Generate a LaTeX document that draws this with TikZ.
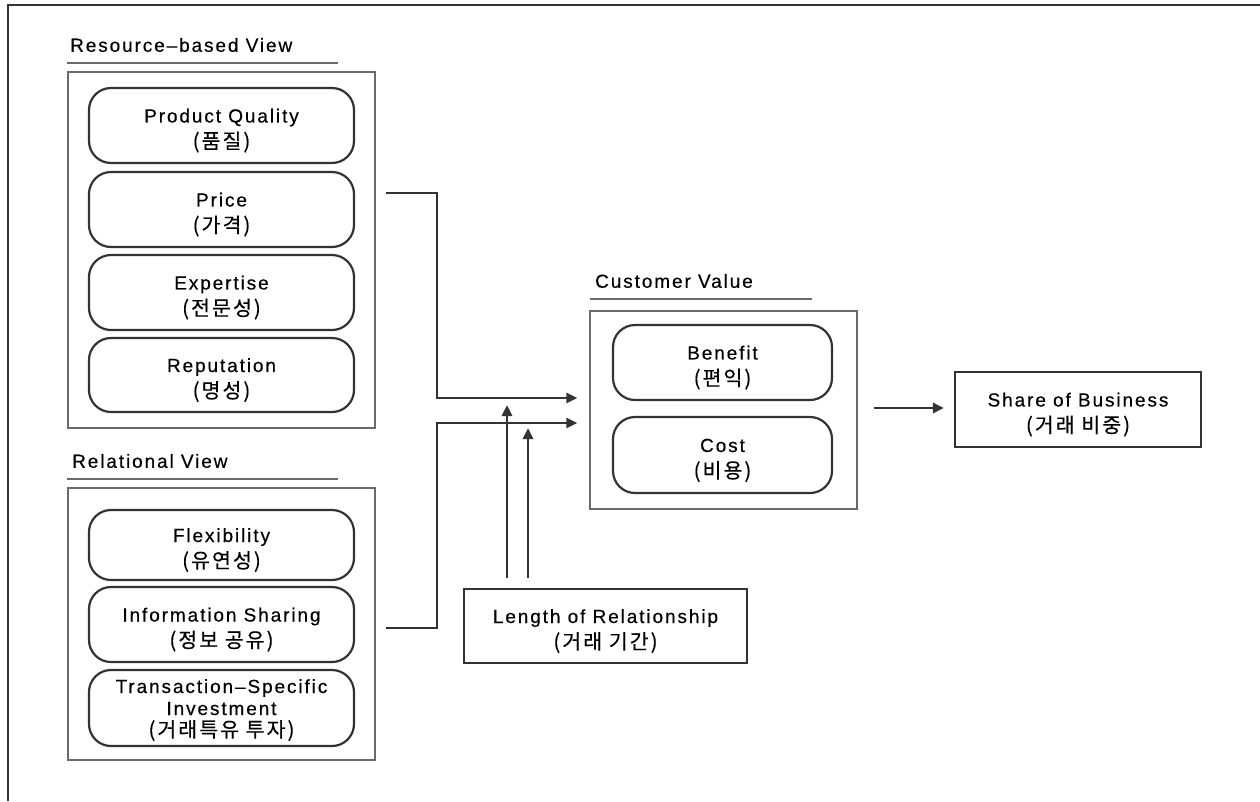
\documentclass[tikz,border=0pt]{standalone}
\usepackage{fontspec}
\setmainfont{Liberation Sans}[LetterSpace=10, FakeBold=0.4]
\newfontfamily\kr{Noto Sans CJK KR}[LetterSpace=10, Scale=1.08, FakeBold=0.3]
\usetikzlibrary{arrows.meta}

\definecolor{ink}{HTML}{333333}
\definecolor{frameink}{HTML}{6A6A6A}

% strut that lowers a two-line label slightly inside its box
\newcommand{\lowstrut}[1]{\rule{0pt}{#1}}

\tikzset{
  lbl/.style={font=\fontsize{19}{26}\selectfont, text=black, align=center, inner sep=0pt},
  viewbox/.style={draw=frameink, line width=1.4pt, rectangle, inner sep=0pt},
  item/.style={lbl, draw=ink, line width=2.2pt, rectangle, rounded corners=22pt},
  plainbox/.style={lbl, draw=ink, line width=2.2pt, rectangle},
  heading/.style={font=\fontsize{19}{26}\selectfont, anchor=west, inner sep=0pt},
  rule/.style={draw=frameink, line width=1.4pt},
  conn/.style={draw=ink, line width=2.8pt, -{Triangle[length=11pt,width=10pt]}},
}

\begin{document}
\begin{tikzpicture}[x=1pt,y=-1pt]
\useasboundingbox (0,0) rectangle (1260,801);
\fill[white] (0,0) rectangle (1260,801);

% page frame (top and left edges only)
\draw[draw=ink, line width=2pt] (8,801) -- (8,5) -- (1260,5);

% ---- Resource-based View ----
\node[heading] (rbvtitle) at (70,45) {Resource–based View};
\draw[rule] (67,63) -- (338,63);
\node[viewbox, minimum width=307pt, minimum height=356pt] (rbv) at (221.5,250) {};
\node[item, minimum width=265pt, minimum height=75pt] (quality) at (221.5,125.5)
  {\lowstrut{24pt}Product Quality\\{\kr (품질)}};
\node[item, minimum width=265pt, minimum height=75pt] (price) at (221.5,209.5)
  {\lowstrut{24pt}Price\\{\kr (가격)}};
\node[item, minimum width=265pt, minimum height=75pt] (expertise) at (221.5,292.5)
  {\lowstrut{24pt}Expertise\\{\kr (전문성)}};
\node[item, minimum width=265pt, minimum height=74pt] (reputation) at (221.5,375)
  {\lowstrut{24pt}Reputation\\{\kr (명성)}};

% ---- Relational View ----
\node[heading] (rvtitle) at (72,461) {Relational View};
\draw[rule] (67,479) -- (338,479);
\node[viewbox, minimum width=307pt, minimum height=272pt] (rv) at (221.5,624) {};
\node[item, minimum width=265pt, minimum height=70pt] (flex) at (221.5,545)
  {\lowstrut{24pt}Flexibility\\{\kr (유연성)}};
\node[item, minimum width=265pt, minimum height=75pt] (info) at (221.5,624.5)
  {\lowstrut{24pt}Information Sharing\\{\kr (정보 공유)}};
\node[item, minimum width=265pt, minimum height=76pt, font=\fontsize{19}{22}\selectfont] (tsi) at (221.5,708)
  {\lowstrut{18pt}Transaction–Specific\\Investment\\{\kr (거래특유 투자)}};

% ---- Customer Value ----
\node[heading] (cvtitle) at (595,281) {Customer Value};
\draw[rule] (590,299) -- (812,299);
\node[viewbox, minimum width=267pt, minimum height=198pt] (cv) at (723.5,410) {};
\node[item, minimum width=219pt, minimum height=75pt] (benefit) at (722.5,362.5)
  {\lowstrut{24pt}Benefit\\{\kr (편익)}};
\node[item, minimum width=219pt, minimum height=76pt] (cost) at (722.5,455)
  {\lowstrut{24pt}Cost\\{\kr (비용)}};

% ---- Length of Relationship ----
\node[plainbox, minimum width=283pt, minimum height=74pt] (length) at (605.5,626)
  {\lowstrut{24pt}Length of Relationship\\{\kr (거래 기간)}};

% ---- Share of Business ----
\node[plainbox, minimum width=246pt, minimum height=75pt] (share) at (1078,409.5)
  {\lowstrut{24pt}Share of Business\\{\kr (거래 비중)}};

% ---- connectors ----
\coordinate (rbvout) at ([xshift=10pt]rbv.east |- 0,193);
\coordinate (rvout) at ([xshift=10pt]rv.east |- 0,628);
\coordinate (cvin1) at (cv.west |- 0,398);
\coordinate (cvin2) at (cv.west |- 0,423);

\draw[conn, shorten >=12pt] (rbvout) -- (437,193) |- (cvin1);
\draw[conn, shorten >=12pt] (rvout) -- (437,628) |- (cvin2);

\draw[conn, shorten <=10pt] (length.north -| 507,0) -- (507,405);
\draw[conn, shorten <=10pt] (length.north -| 528,0) -- (528,428);

\draw[conn, shorten <=16pt, shorten >=10pt] (cv.east |- 0,408) -- (share.west |- 0,408);
\end{tikzpicture}
\end{document}
